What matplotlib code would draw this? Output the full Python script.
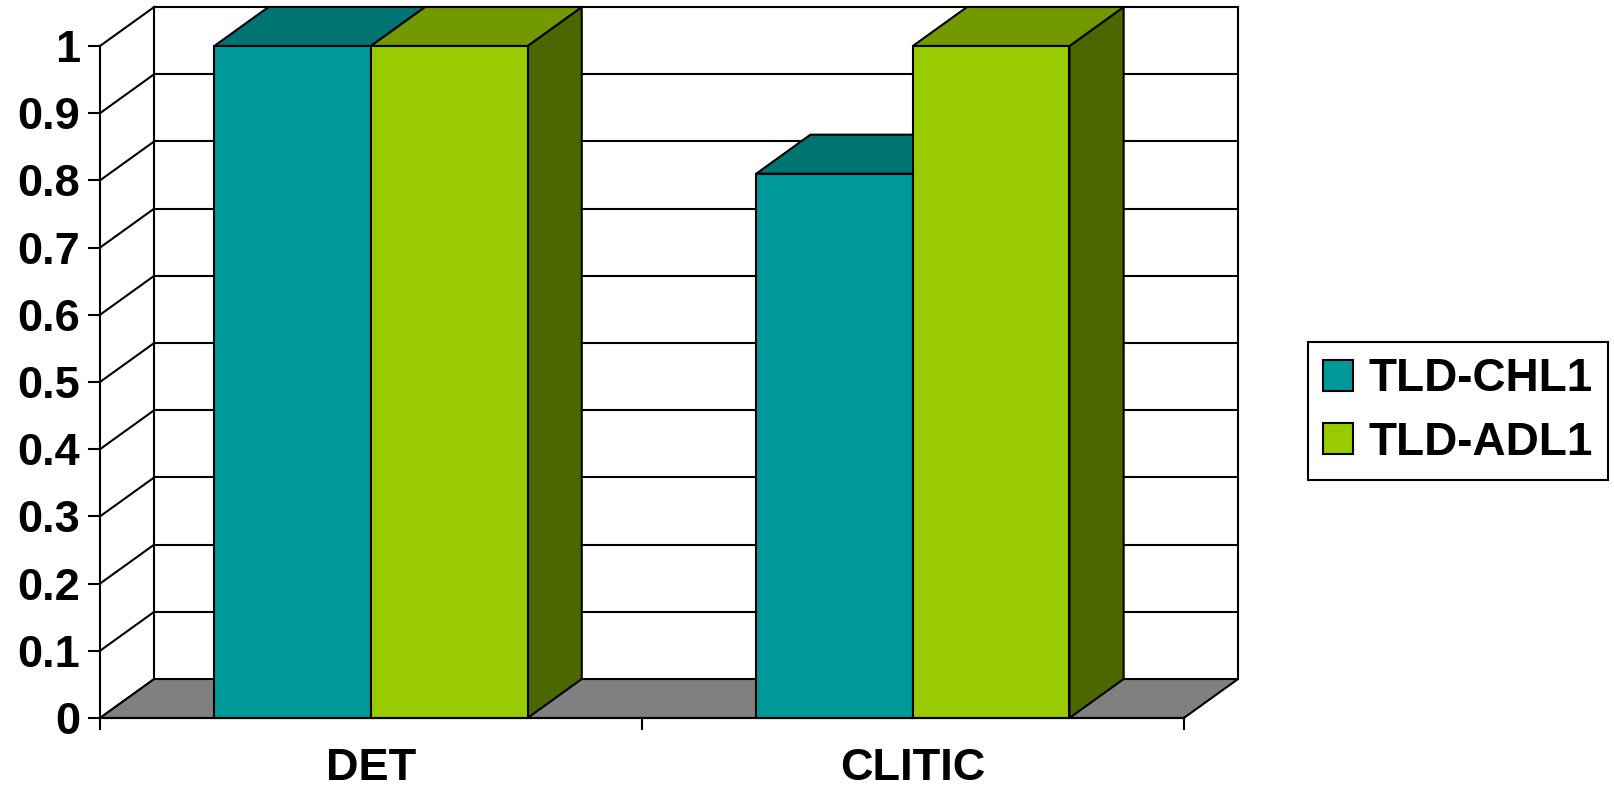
import matplotlib.pyplot as plt
from matplotlib.patches import Patch, Polygon

categories = ["DET", "CLITIC"]
series_names = ["TLD-CHL1", "TLD-ADL1"]
chl1_values = [1.0, 0.81]
adl1_values = [1.0, 1.0]
y_ticks = [0, 0.1, 0.2, 0.3, 0.4, 0.5, 0.6, 0.7, 0.8, 0.9, 1.0]
y_tick_labels = ["0", "0.1", "0.2", "0.3", "0.4", "0.5", "0.6", "0.7", "0.8", "0.9", "1"]

front_colors = ["#009999", "#99CC00"]
top_colors = ["#007373", "#739900"]
side_colors = ["#005C5C", "#4C6600"]
floor_color = "#808080"

# depth of the fake 3d box, in data units
DX = 0.1
DY = 0.058
BAR_W = 0.289
LW = 1.5

plt.rcParams["font.family"] = "Liberation Sans"
plt.rcParams["font.weight"] = "bold"

fig = plt.figure(figsize=(16.15, 7.9), dpi=100)
ax = fig.add_axes([100 / 1615, 72 / 790, 1138 / 1615, 711 / 790])
ax.set_xlim(0, 2 + DX)
ax.set_ylim(0, 1 + DY)
ax.axis("off")


def line(xs, ys, z=2):
    ax.plot(xs, ys, color="black", lw=LW, zorder=z, clip_on=False,
            solid_capstyle="projecting")


def poly(points, color, z):
    ax.add_patch(Polygon(points, closed=True, facecolor=color,
                         edgecolor="black", lw=LW, zorder=z,
                         joinstyle="miter", clip_on=False))


# back wall and left wall
for v in y_ticks[1:]:
    line([DX, 2 + DX], [v + DY, v + DY], z=1)
for v in y_ticks:
    line([0, DX], [v, v + DY], z=1)
line([DX, DX], [DY, 1 + DY], z=1)
line([2 + DX, 2 + DX], [DY, 1 + DY], z=1)

# floor
poly([(0, 0), (2, 0), (2 + DX, DY), (DX, DY)], floor_color, 2)

# front axes with ticks
line([0, 0], [0, 1], z=5)
line([0, 2], [0, 0], z=5)
for v, lbl in zip(y_ticks, y_tick_labels):
    line([-0.0203, 0], [v, v], z=5)
    ax.annotate(lbl, (0, v), xytext=(-14.4, -11.5), textcoords="offset points",
                ha="right", va="baseline", fontsize=32.5, fontweight="bold",
                annotation_clip=False)
for i in range(len(categories) + 1):
    line([i, i], [0, -0.0164], z=5)
for i, cat in enumerate(categories):
    ax.annotate(cat, (i + 0.5, 0), xytext=(0, -44.5), textcoords="offset points",
                ha="center", va="baseline", fontsize=32.5, fontweight="bold",
                annotation_clip=False)


def draw_bar(x0, h, k, z):
    x1 = x0 + BAR_W
    poly([(x1, 0), (x1 + DX, DY), (x1 + DX, h + DY), (x1, h)], side_colors[k], z)
    poly([(x0, h), (x1, h), (x1 + DX, h + DY), (x0 + DX, h + DY)], top_colors[k], z)
    poly([(x0, 0), (x1, 0), (x1, h), (x0, h)], front_colors[k], z)


for i in range(len(categories)):
    start = i + 0.5 - BAR_W
    draw_bar(start, chl1_values[i], 0, 3)
    draw_bar(start + BAR_W, adl1_values[i], 1, 4)

handles = [Patch(facecolor=c, edgecolor="black", lw=LW) for c in front_colors]
leg = fig.legend(handles, series_names, loc="center left",
                 bbox_to_anchor=(1308 / 1615, 379 / 790), borderaxespad=0,
                 fontsize=33, handlelength=0.65, handleheight=0.65,
                 handletextpad=0.35, borderpad=0.33, labelspacing=0.42,
                 fancybox=False, framealpha=1)
leg.get_frame().set_edgecolor("black")
leg.get_frame().set_linewidth(LW)

fig.savefig("out.png", dpi=100)
